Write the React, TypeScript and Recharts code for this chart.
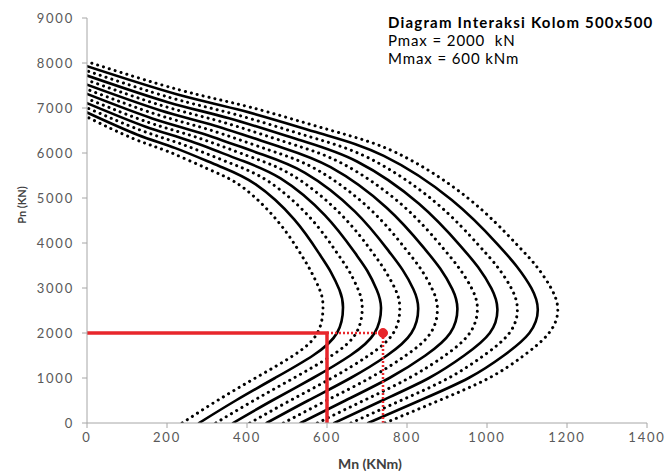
import React from 'react';
import { LineChart, Line, XAxis, YAxis, ReferenceDot } from 'recharts';

// Interaction curves [Mn (kNm), Pn (kN)], inner to outer
const c0 = [[238,0],[326,500],[421,1000],[516,1500],[576,2000],[590,2580],[582,2955],[562,3335],[537,3719],[477,4483],[388,5247],[304,5640],[204,6028],[116,6319],[0,6800]];
const c1 = [[280,0],[372,500],[470,1000],[565,1500],[625,2000],[640,2575],[631,2959],[610,3349],[582,3743],[518,4526],[421,5308],[330,5711],[221,6109],[126,6407],[0,6900]];
const c2 = [[322,0],[417,500],[517,1000],[612,1500],[673,2000],[688,2570],[678,2964],[656,3364],[626,3767],[557,4570],[453,5373],[355,5785],[238,6193],[136,6499],[0,7005]];
const c3 = [[365,0],[463,500],[565,1000],[658,1500],[719,2000],[735,2565],[724,2968],[701,3378],[669,3792],[595,4614],[484,5436],[379,5859],[254,6277],[145,6590],[0,7108]];
const c4 = [[407,0],[508,500],[612,1000],[704,1500],[766,2000],[782,2555],[771,2968],[745,3388],[712,3812],[633,4654],[515,5497],[404,5930],[271,6358],[154,6679],[0,7210]];
const c5 = [[449,0],[553,500],[659,1000],[750,1500],[811,2000],[828,2550],[816,2973],[789,3402],[753,3836],[670,4698],[545,5560],[427,6002],[286,6441],[163,6769],[0,7312]];
const c6 = [[491,0],[599,500],[707,1000],[797,1500],[859,2000],[876,2545],[863,2977],[835,3417],[797,3860],[709,4741],[576,5623],[452,6076],[303,6524],[173,6860],[0,7415]];
const c7 = [[534,0],[646,500],[756,1000],[846,1500],[908,2000],[926,2540],[913,2982],[883,3431],[843,3884],[749,4785],[609,5686],[478,6149],[320,6607],[182,6951],[0,7518]];
const c8 = [[576,0],[692,500],[805,1000],[895,1500],[957,2000],[976,2535],[962,2987],[930,3445],[888,3908],[790,4828],[642,5749],[504,6222],[338,6689],[192,7040],[0,7620]];
const c9 = [[618,0],[738,500],[855,1000],[943,1500],[1007,2000],[1026,2530],[1011,2991],[978,3459],[934,3932],[830,4872],[675,5811],[529,6294],[355,6772],[202,7130],[0,7722]];
const c10 = [[660,0],[785,500],[904,1000],[992,1500],[1056,2000],[1076,2520],[1061,2991],[1026,3470],[979,3952],[870,4913],[708,5873],[555,6366],[372,6854],[212,7220],[0,7825]];
const c11 = [[703,0],[832,500],[954,1000],[1042,1500],[1106,2000],[1127,2515],[1111,2996],[1074,3484],[1026,3977],[912,4956],[742,5936],[582,6439],[390,6937],[222,7311],[0,7928]];
const c12 = [[745,0],[880,500],[1005,1000],[1092,1500],[1155,2000],[1177,2510],[1160,3000],[1122,3500],[1071,4000],[952,5000],[775,6000],[607,6510],[407,7020],[232,7400],[0,8030]];

const curves = [c0, c1, c2, c3, c4, c5, c6, c7, c8, c9, c10, c11, c12];

// Design point lines
const redSolid = [[0,2000],[600,2000],[600,0]];
const redDotted = [[600,2000],[740,2000],[740,0]];
const redPoint = [740, 2000];

const xTicks = [0, 200, 400, 600, 800, 1000, 1200, 1400];
const yTicks = [0, 1000, 2000, 3000, 4000, 5000, 6000, 7000, 8000, 9000];

const titleLines = ['Diagram Interaksi Kolom 500x500', 'Pmax = 2000  kN', 'Mmax = 600 kNm'];

const toPts = (arr: number[][]) => arr.map(([m, p]) => ({ m, p }));

const FONT = 'Lato, "Open Sans", Arial, sans-serif';
const tickStyle = { fill: '#595959', fontSize: 13, fontFamily: FONT, letterSpacing: 1.8 } as any;

export default function App() {
  return (
    <div style={{ position: 'absolute', left: 0, top: 0, width: 665, height: 471, background: '#fff', overflow: 'hidden' }}>
      <LineChart width={665} height={471} margin={{ top: 18, right: 18, bottom: 18, left: 27 }}>
        <XAxis
          type="number"
          dataKey="m"
          domain={[0, 1400]}
          ticks={xTicks}
          height={30}
          stroke="#a6a6a6"
          tickSize={5}
          tickMargin={5}
          tick={tickStyle}
          allowDataOverflow
        />
        <YAxis
          type="number"
          dataKey="p"
          domain={[0, 9000]}
          ticks={yTicks}
          width={60}
          stroke="#a6a6a6"
          tickSize={5}
          tickMargin={8}
          tick={tickStyle}
          allowDataOverflow
        />
        {curves.map((c, i) => (
          <Line
            key={'c' + i}
            data={toPts(c)}
            dataKey="p"
            type="natural"
            stroke="#000"
            strokeWidth={i % 2 === 1 ? 2.6 : 3}
            strokeDasharray={i % 2 === 1 ? undefined : '0.1 6'}
            strokeLinecap="round"
            dot={false}
            activeDot={false}
            isAnimationActive={false}
          />
        ))}
        <Line
          data={toPts(redDotted)}
          dataKey="p"
          type="linear"
          stroke="#e8262b"
          strokeWidth={2.5}
          strokeDasharray="2 2"
          dot={false}
          activeDot={false}
          isAnimationActive={false}
        />
        <Line
          data={toPts(redSolid)}
          dataKey="p"
          type="linear"
          stroke="#e8262b"
          strokeWidth={3.5}
          dot={false}
          activeDot={false}
          isAnimationActive={false}
        />
        <ReferenceDot x={redPoint[0]} y={redPoint[1]} r={4.5} fill="#e8262b" stroke="#e8262b" />
      </LineChart>
      <div style={{ position: 'absolute', left: 388, top: 13, fontFamily: FONT, lineHeight: '18px', color: '#000' }}>
        <div style={{ fontSize: 15, fontWeight: 700, letterSpacing: 1.2, whiteSpace: 'pre' }}>{titleLines[0]}</div>
        <div style={{ fontSize: 15, letterSpacing: 0.9, whiteSpace: 'pre' }}>{titleLines[1]}</div>
        <div style={{ fontSize: 15, letterSpacing: 0.9, whiteSpace: 'pre' }}>{titleLines[2]}</div>
      </div>
      <div style={{ position: 'absolute', left: 370, top: 463, transform: 'translate(-50%, -50%)', fontFamily: FONT, fontSize: 14, fontWeight: 700, color: '#404040', whiteSpace: 'nowrap' }}>
        Mn (KNm)
      </div>
      <div style={{ position: 'absolute', left: 21, top: 205, transform: 'translate(-50%, -50%) rotate(-90deg)', fontFamily: FONT, fontSize: 11, fontWeight: 700, color: '#404040', whiteSpace: 'nowrap' }}>
        Pn (KN)
      </div>
    </div>
  );
}
